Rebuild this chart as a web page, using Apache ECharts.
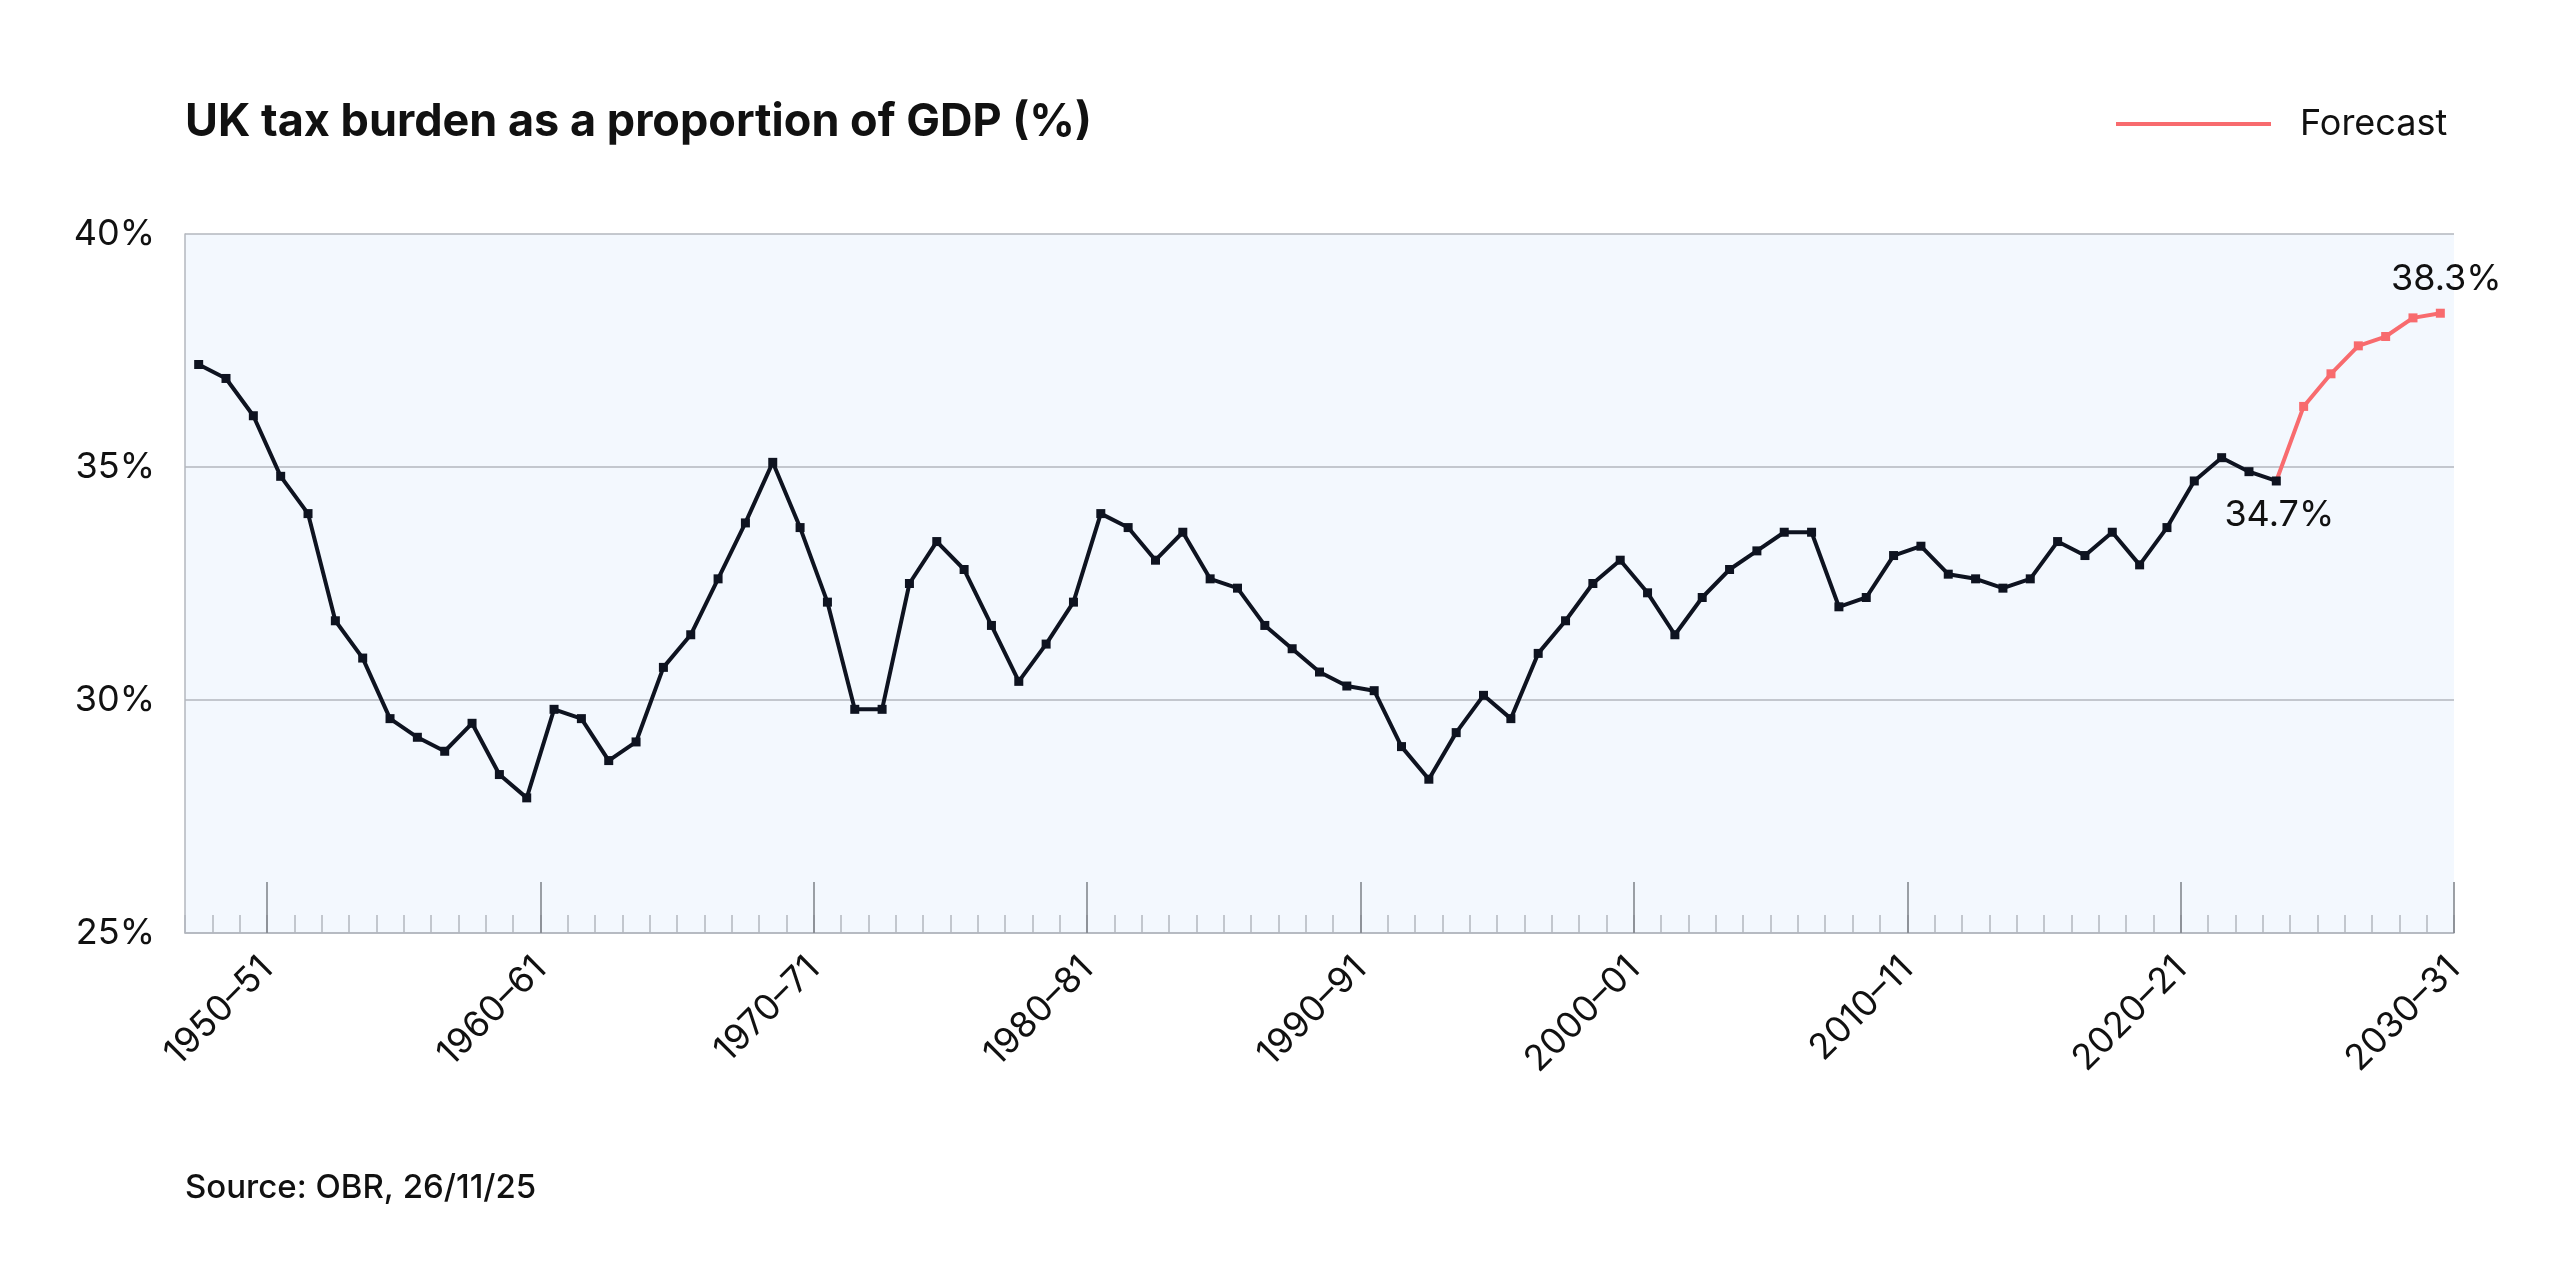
<!DOCTYPE html>
<html>
<head>
<meta charset="utf-8">
<style>
html,body{margin:0;padding:0;background:#fff;}
#chart{width:2560px;height:1280px;}
</style>
<script src="https://cdn.jsdelivr.net/npm/echarts@6/dist/echarts.min.js"></script>
</head>
<body>
<div id="chart"></div>
<script>
// Fiscal years (one point per year)
const categories = [
  '1948–49','1949–50','1950–51','1951–52','1952–53','1953–54','1954–55','1955–56','1956–57','1957–58',
  '1958–59','1959–60','1960–61','1961–62','1962–63','1963–64','1964–65','1965–66','1966–67','1967–68',
  '1968–69','1969–70','1970–71','1971–72','1972–73','1973–74','1974–75','1975–76','1976–77','1977–78',
  '1978–79','1979–80','1980–81','1981–82','1982–83','1983–84','1984–85','1985–86','1986–87','1987–88',
  '1988–89','1989–90','1990–91','1991–92','1992–93','1993–94','1994–95','1995–96','1996–97','1997–98',
  '1998–99','1999–00','2000–01','2001–02','2002–03','2003–04','2004–05','2005–06','2006–07','2007–08',
  '2008–09','2009–10','2010–11','2011–12','2012–13','2013–14','2014–15','2015–16','2016–17','2017–18',
  '2018–19','2019–20','2020–21','2021–22','2022–23','2023–24','2024–25','2025–26','2026–27','2027–28',
  '2028–29','2029–30','2030–31'
];
// Outturn 1948–49 .. 2024–25
const outturn = [
  37.2,36.9,36.1,34.8,34.0,31.7,30.9,29.6,29.2,28.9,
  29.5,28.4,27.9,29.8,29.6,28.7,29.1,30.7,31.4,32.6,
  33.8,35.1,33.7,32.1,29.8,29.8,32.5,33.4,32.8,31.6,
  30.4,31.2,32.1,34.0,33.7,33.0,33.6,32.6,32.4,31.6,
  31.1,30.6,30.3,30.2,29.0,28.3,29.3,30.1,29.6,31.0,
  31.7,32.5,33.0,32.3,31.4,32.2,32.8,33.2,33.6,33.6,
  32.0,32.2,33.1,33.3,32.7,32.6,32.4,32.6,33.4,33.1,
  33.6,32.9,33.7,34.7,35.2,34.9,34.7
];
// Forecast 2025–26 .. 2030–31
const forecast = [36.3,37.0,37.6,37.8,38.2,38.3];
// Labelled x ticks
const tickLabels = ['1950–51','1960–61','1970–71','1980–81','1990–91','2000–01','2010–11','2020–21','2030–31'];
const yTicks = [25,30,35,40];

const FONT = 'Inter, "Noto Sans", sans-serif';
const startYear = parseInt(categories[0], 10);
const endYear = parseInt(categories[categories.length - 1], 10) + 1;
// each fiscal year Y–(Y+1) occupies the band [Y, Y+1]; point at its middle
const xOf = (label) => parseInt(label, 10) + 0.5;
// a labelled tick sits at the end of the named fiscal year
const majorVals = tickLabels.map(l => parseInt(l, 10) + 1);
const labelOf = {};
tickLabels.forEach((l, i) => { labelOf[majorVals[i]] = l; });

const nOut = outturn.length;
const blackData = outturn.map((v, i) => {
  const d = { value: [xOf(categories[i]), v] };
  if (i === nOut - 1) {
    d.label = { show: true, position: 'bottom', distance: 12, offset: [3, 0], formatter: v.toFixed(1) + '%',
      fontSize: 36, color: '#111', fontFamily: FONT };
  }
  return d;
});
const redData = [{ value: [xOf(categories[nOut - 1]), outturn[nOut - 1]], symbol: 'none' }]
  .concat(forecast.map((v, i) => {
    const d = { value: [xOf(categories[nOut + i]), v] };
    if (i === forecast.length - 1) {
      d.label = { show: true, position: 'top', distance: 12, offset: [6, 0], formatter: v.toFixed(1) + '%',
        fontSize: 36, color: '#111', fontFamily: FONT };
    }
    return d;
  }));

const chart = echarts.init(document.getElementById('chart'), null, { renderer: 'canvas' });
chart.setOption({
  backgroundColor: '#ffffff',
  animation: false,
  title: {
    text: 'UK tax burden as a proportion of GDP (%)',
    left: 185, top: 98, padding: 0,
    textStyle: { fontSize: 45, fontWeight: 'bold', color: '#111', fontFamily: FONT, lineHeight: 48 }
  },
  legend: {
    data: ['Forecast'],
    left: 2116, top: 106, padding: 0,
    icon: 'rect', itemWidth: 155, itemHeight: 4,
    textStyle: { fontSize: 36, color: '#111', fontFamily: FONT, padding: [0, 0, 0, 24] }
  },
  grid: {
    left: 185, right: 106, top: 234, bottom: 347,
    show: true, backgroundColor: '#f3f8fe', borderWidth: 0, containLabel: false
  },
  xAxis: [
    {
      type: 'value', min: startYear, max: endYear, interval: 1, position: 'bottom',
      axisLine: { show: true, onZero: false, lineStyle: { color: '#b3b7be', width: 1.5 } },
      axisTick: { show: true, inside: true, length: 18, lineStyle: { color: '#b3b7be', width: 1.5 } },
      axisLabel: { show: false },
      splitLine: { show: false }
    },
    {
      type: 'value', min: startYear, max: endYear, position: 'bottom',
      axisLine: { show: false, onZero: false },
      axisTick: { show: true, inside: true, length: 51, customValues: majorVals,
        lineStyle: { color: '#7d8188', width: 1.5 } },
      axisLabel: { show: true, customValues: majorVals, rotate: 45, margin: 30,
        fontSize: 36, color: '#111', fontFamily: FONT,
        formatter: (v) => labelOf[Math.round(v)] || '' },
      splitLine: { show: false }
    }
  ],
  yAxis: {
    type: 'value', min: yTicks[0], max: yTicks[yTicks.length - 1], interval: yTicks[1] - yTicks[0],
    axisLine: { show: true, lineStyle: { color: '#b3b7be', width: 1.5 } },
    axisTick: { show: false },
    axisLabel: { formatter: '{value}%', fontSize: 36, color: '#111', fontFamily: FONT, margin: 30 },
    splitLine: { show: true, lineStyle: { color: '#b3b7be', width: 1.5 } }
  },
  series: [
    {
      name: 'Forecast', type: 'line', data: redData,
      symbol: 'rect', symbolSize: 9, showAllSymbol: true,
      lineStyle: { color: '#f86b6e', width: 4 },
      itemStyle: { color: '#f86b6e' },
      z: 3
    },
    {
      name: 'Outturn', type: 'line', data: blackData,
      symbol: 'rect', symbolSize: 9, showAllSymbol: true,
      lineStyle: { color: '#0e1320', width: 4 },
      itemStyle: { color: '#0e1320' },
      z: 4
    }
  ],
  graphic: [
    {
      type: 'text', left: 185, top: 1172,
      style: { text: 'Source: OBR, 26/11/25', fontSize: 33, fontWeight: 500, fontFamily: FONT, fill: '#111' }
    }
  ]
});
</script>
</body>
</html>
